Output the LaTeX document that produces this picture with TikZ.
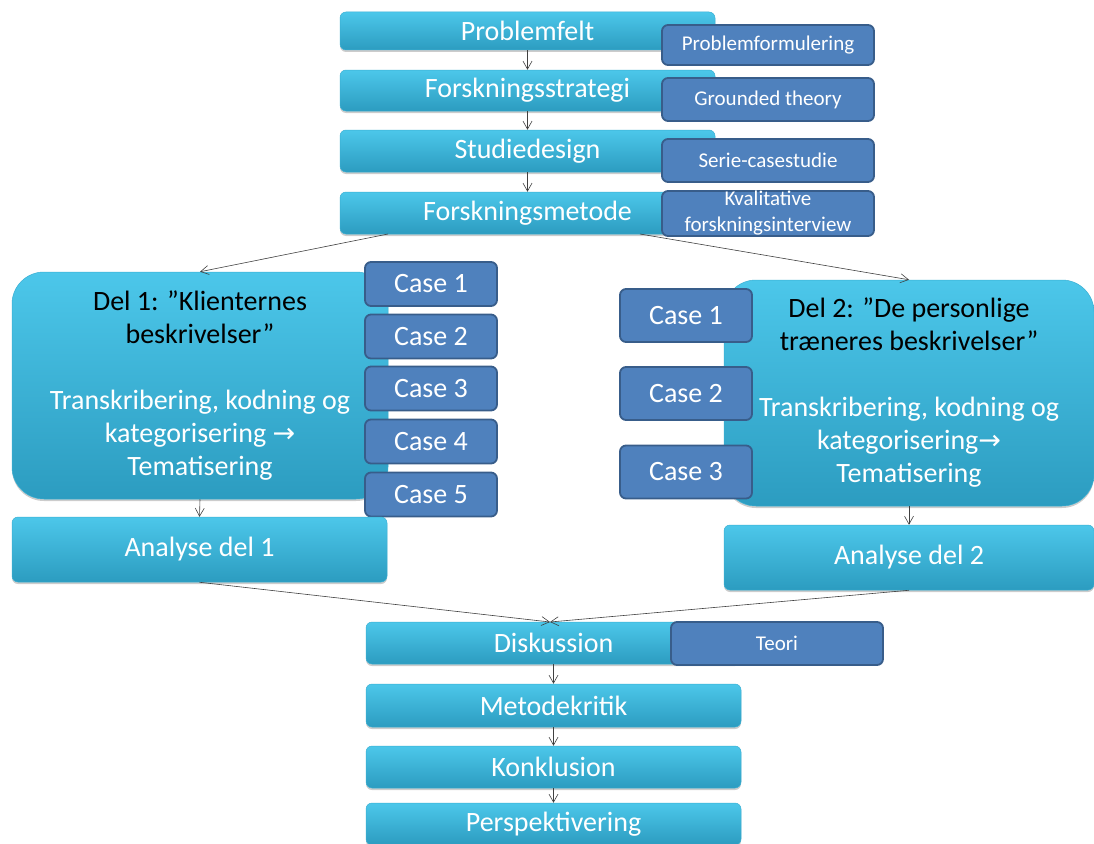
\documentclass[tikz,border=0pt]{standalone}
\usepackage{fontspec}
\setmainfont{Carlito}
\newfontfamily\symfont{DejaVu Sans}
\usetikzlibrary{arrows.meta,shadows,calc}
\definecolor{cyanA}{HTML}{4CC7EA}
\definecolor{cyanB}{HTML}{2C9CC0}
\definecolor{cyanE}{HTML}{3AAFD3}
\definecolor{blueF}{HTML}{4F81BD}
\definecolor{blueE}{HTML}{385D8A}
\tikzset{
  cyanbox/.style={rectangle, rounded corners=6pt, draw=cyanE, line width=0.5pt,
    top color=cyanA, bottom color=cyanB, text=white, inner sep=0pt,
    font=\fontsize{28}{32}\selectfont,
    drop shadow={shadow xshift=0pt, shadow yshift=-2pt, opacity=0.4}},
  bigbox/.style={cyanbox, rounded corners=32pt, align=center,
    font=\fontsize{28}{33}\selectfont},
  bluebox/.style={rectangle, rounded corners=6pt, draw=blueE, line width=1.8pt,
    fill=blueF, text=white, inner sep=0pt, font=\fontsize{21}{25}\selectfont},
  casebox/.style={bluebox, minimum width=132pt, font=\fontsize{28}{32}\selectfont},
  conn/.style={draw=black!75, line width=0.6pt, -{Straight Barb[length=8pt,width=9pt]}}
}
\begin{document}
\begin{tikzpicture}[x=1pt,y=-1pt]
\useasboundingbox (0,0) rectangle (1094,843);
% top column
\node[cyanbox, minimum width=375pt, minimum height=38pt] (pf) at (527.5,31) {Problemfelt};
\node[cyanbox, minimum width=375pt, minimum height=41pt] (fs) at (527.5,90.5) {Forskningsstrategi};
\node[cyanbox, minimum width=375pt, minimum height=42pt] (sd) at (527.5,151) {Studiedesign};
\node[cyanbox, minimum width=375pt, minimum height=42pt] (fm) at (527.5,213) {Forskningsmetode};
\node[bluebox, minimum width=212pt, minimum height=40pt] (pfo) at (768,45) {Problemformulering};
\node[bluebox, minimum width=212pt, minimum height=43pt] (gt) at (768,99.5) {Grounded theory};
\node[bluebox, minimum width=212pt, minimum height=43pt] (sc) at (768,160.5) {Serie-casestudie};
\node[bluebox, minimum width=212pt, minimum height=45pt, align=center,
  font=\fontsize{21}{26}\selectfont] (kf) at (768,213.5) {Kvalitative\\forskningsinterview};
\draw[conn] (pf.south) -- (fs.north);
\draw[conn] (fs.south) -- (sd.north);
\draw[conn] (sd.south) -- (fm.north);
% part 1
\node[bigbox, minimum width=376pt, minimum height=227pt] (d1) at (200,385.5)
  {\textcolor{black}{Del 1: ”Klienternes}\\\textcolor{black}{beskrivelser”}\\[33pt]
   Transkribering, kodning og\\
   kategorisering {\symfont\fontsize{27}{33}\selectfont →}\\
   Tematisering};
\node[casebox, minimum height=44pt] (c11) at (431,284) {Case 1};
\node[casebox, minimum height=44pt] (c12) at (431,336.5) {Case 2};
\node[casebox, minimum height=44pt] (c13) at (431,388.5) {Case 3};
\node[casebox, minimum height=44pt] (c14) at (431,441.5) {Case 4};
\node[casebox, minimum height=44pt] (c15) at (431,494.5) {Case 5};
\node[cyanbox, minimum width=375pt, minimum height=65pt] (an1) at (199.5,549.5) {Analyse del 1};
% part 2
\node[bigbox, minimum width=370pt, minimum height=226pt] (d2) at (909,393)
  {\textcolor{black}{Del 2: ”De personlige}\\\textcolor{black}{træneres beskrivelser”}\\[33pt]
   Transkribering, kodning og\\
   kategorisering{\symfont\fontsize{27}{33}\selectfont →}\\
   Tematisering};
\node[casebox, minimum height=53pt] (c21) at (686,315.5) {Case 1};
\node[casebox, minimum height=53pt] (c22) at (686,393.5) {Case 2};
\node[casebox, minimum height=53pt] (c23) at (686,472) {Case 3};
\node[cyanbox, minimum width=370pt, minimum height=65pt] (an2) at (909,557.5) {Analyse del 2};
\coordinate (fml) at (388,234);
\coordinate (fmr) at (640,234);
\draw[conn] (fml) -- (d1.north);
\draw[conn] (fmr) -- (d2.north);
\draw[conn] (d1.south) -- (an1.north);
\draw[conn] (d2.south) -- (an2.north);
% bottom column
\node[cyanbox, minimum width=375pt, minimum height=42pt] (dk) at (553.5,643) {Diskussion};
\node[cyanbox, minimum width=375pt, minimum height=43pt] (mk) at (553.5,705.5) {Metodekritik};
\node[cyanbox, minimum width=375pt, minimum height=42pt] (kl) at (553.5,767) {Konklusion};
\node[cyanbox, minimum width=375pt, minimum height=42pt] (pv) at (553.5,824) {Perspektivering};
\node[bluebox, minimum width=212pt, minimum height=43pt] (te) at (777,643.5) {Teori};
\coordinate (dkt) at (550,622);
\draw[conn] (an1.south) -- (dkt);
\draw[conn] (an2.south) -- (dkt);
\draw[conn] (dk.south) -- (mk.north);
\draw[conn] (mk.south) -- (kl.north);
\draw[conn] (kl.south) -- (pv.north);
\end{tikzpicture}
\end{document}
